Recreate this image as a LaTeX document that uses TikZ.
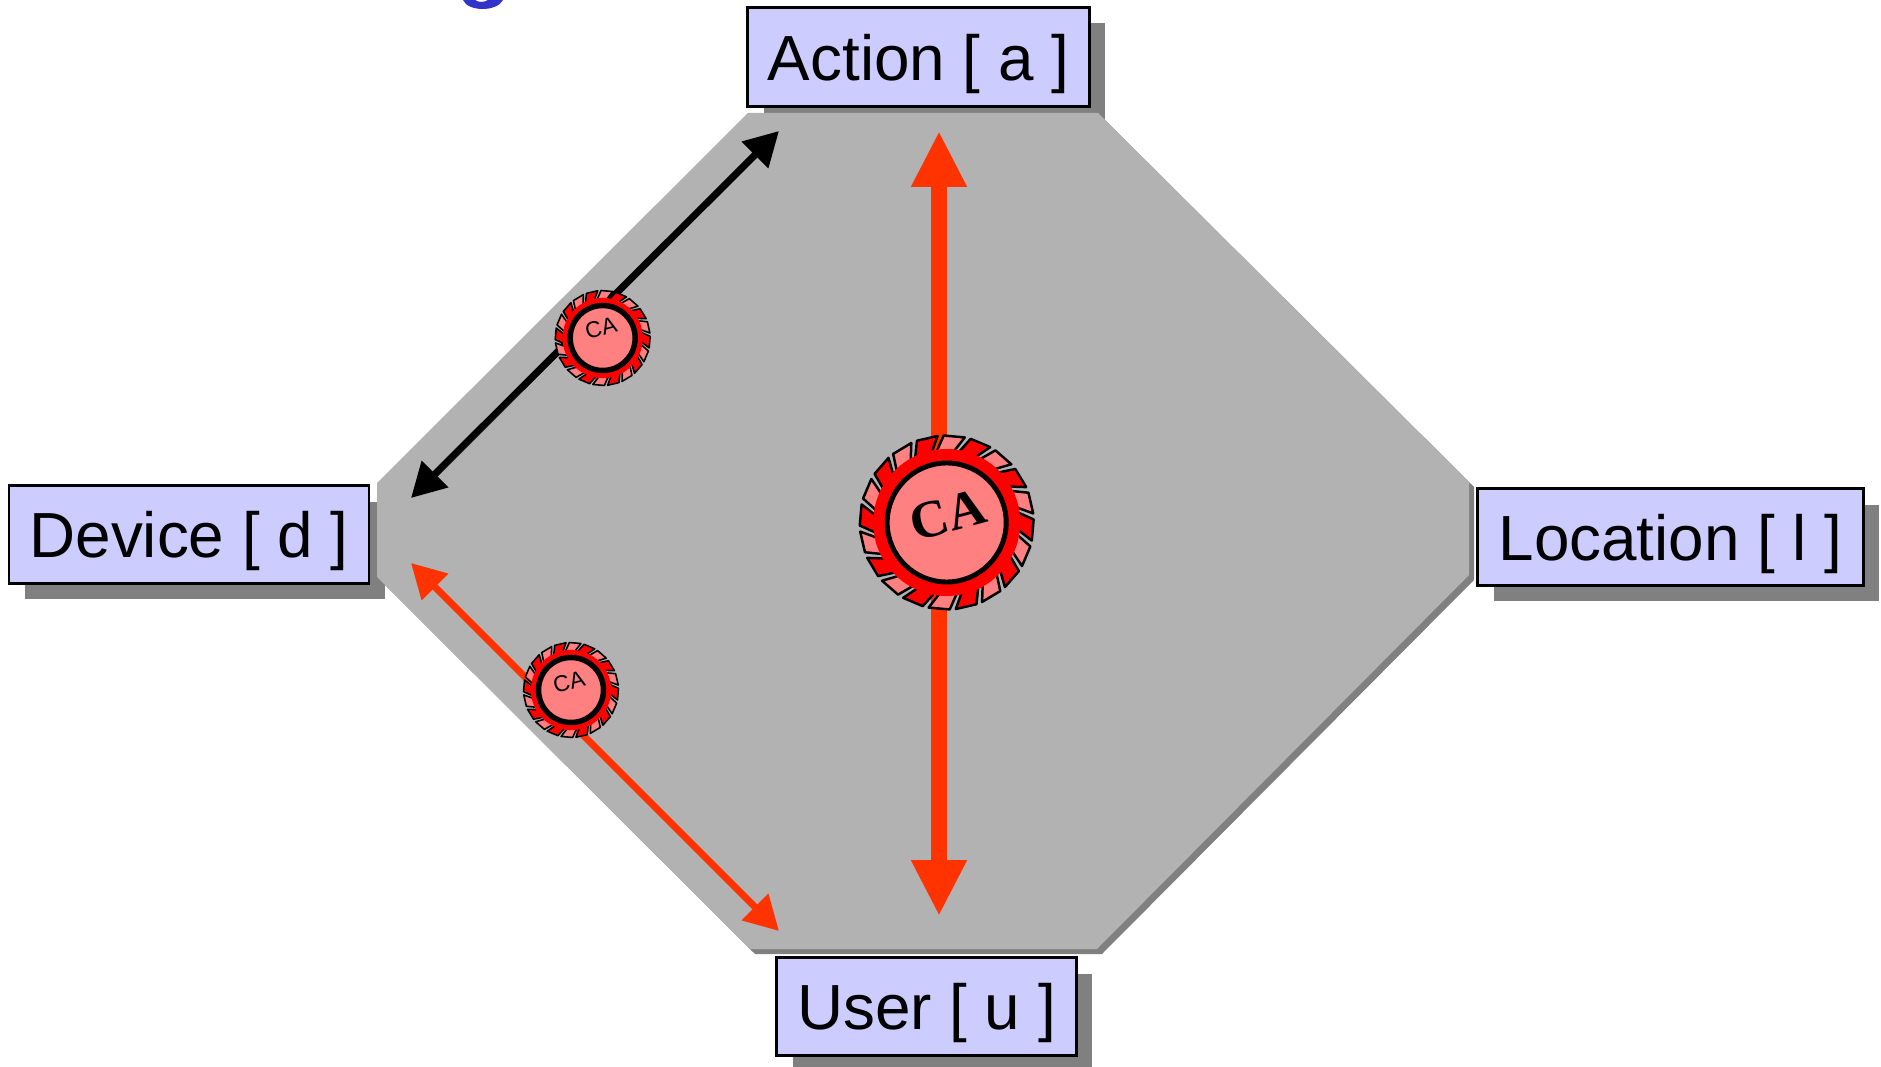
\documentclass[tikz,border=0pt]{standalone}
\usepackage{fontspec}
\setmainfont{Liberation Sans}
\newfontfamily\serifca{Liberation Serif}
\usepackage{xcolor}
\definecolor{labelblue}{RGB}{204, 204, 255}
\definecolor{shadowgray}{RGB}{128, 128, 128}
\definecolor{plategray}{RGB}{178, 178, 178}
\definecolor{arrowred}{RGB}{255, 51, 0}
\definecolor{sealpink}{RGB}{255, 128, 128}
\definecolor{titleblue}{RGB}{51, 51, 204}
\usetikzlibrary{arrows.meta, shadows}

% centre, scale, ring width, tooth width
\newcommand{\caseal}[4]{%
  \begin{scope}[shift={#1}, scale=#2]
    \foreach \i in {0,...,19} {
      \pgfmathsetmacro{\ang}{90-18*\i}
      \pgfmathtruncatemacro{\odd}{mod(\i,2)}
      \ifnum\odd=0 \def\toothfill{sealpink}\else \def\toothfill{red}\fi
      \draw[draw=black, line width=#4, line join=round, fill=\toothfill]
        (\ang+9:70) -- (\ang+2:87) -- (\ang-12:87) -- (\ang-5:70) -- cycle;
    }
    \fill[red] (0,0) circle (73.5);
    \draw[black, line width=#3, fill=sealpink] (0,0) circle (59.5);
  \end{scope}
}

\begin{document}
\begin{tikzpicture}[
        x=0.02cm, y=0.02cm,
        lab/.style={draw=black, fill=labelblue, line width=1.2pt, inner sep=0pt,
                    font=\fontsize{36.3}{40}\selectfont,
                    text height=1.2cm, text depth=0.26cm,
                    drop shadow={shadow xshift=0.32cm, shadow yshift=-0.32cm,
                                 fill=shadowgray, opacity=1}},
        bigarrow/.style={arrowred, line width=0.32cm,
                    {Triangle[length=1.12cm, width=1.04cm]}-{Triangle[length=1.12cm, width=1.04cm]}},
        thinarrow/.style={line width=0.14cm,
                    {Triangle[length=0.68cm, width=0.72cm]}-{Triangle[length=0.68cm, width=0.72cm]}},
        bigca/.style={rotate=15, inner sep=0pt,
                    font=\serifca\bfseries\fontsize{30}{30}\selectfont},
        smallca/.style={rotate=15, inner sep=0pt,
                    font=\fontsize{13}{14}\selectfont}]
        \useasboundingbox (0,0) rectangle (1881,1066);
        % labels
        \node[lab, minimum width=6.84cm, minimum height=1.98cm] (action) at (918.5,1009) {Action [ a ]};
        \node[lab, minimum width=7.2cm, minimum height=1.96cm] (device) at (189,531.5) {Device [ d ]};
        \node[lab, minimum width=7.72cm, minimum height=1.94cm] (location) at (1670.5,529) {Location [ l ]};
        \node[lab, minimum width=6cm, minimum height=1.96cm] (user) at (926.5,59.5) {User [ u ]};
        % plate
        \fill[plategray, drop shadow={shadow xshift=0.1cm, shadow yshift=-0.1cm,
                                      fill=shadowgray, opacity=1}]
          (748,953) -- (1098,953) -- (1469,584) -- (1469,491)
          -- (1097,117) -- (750,117) -- (377,489) -- (377,583) -- cycle;
        % title remainder
        \fill[titleblue] (463,1066) .. controls (468,1054) and (497,1054) .. (503,1066)
          -- (488,1066) .. controls (485,1063.5) and (478,1063.5) .. (475,1066) -- cycle;
        % arrows
        \coordinate (va) at (939,935);
        \coordinate (vu) at (939,150);
        \coordinate (da) at (779,935);
        \coordinate (dd) at (411,568);
        \coordinate (ud) at (411,503);
        \coordinate (uu) at (779,135);
        \draw[bigarrow] (va) -- (vu);
        \draw[thinarrow, black] (da) -- (dd);
        \draw[thinarrow, arrowred] (ud) -- (uu);
        % seals
        \caseal{(946.7,543.5)}{1}{2.8pt}{1.4pt}
        \node[bigca] (cabig) at (948,551) {CA};
        \caseal{(602.7,728)}{0.546}{3.1pt}{0.9pt}
        \node[smallca] (catop) at (601,738) {CA};
        \caseal{(571,376)}{0.546}{3.1pt}{0.9pt}
        \node[smallca] (cabot) at (569,384) {CA};
      \end{tikzpicture}
\end{document}
